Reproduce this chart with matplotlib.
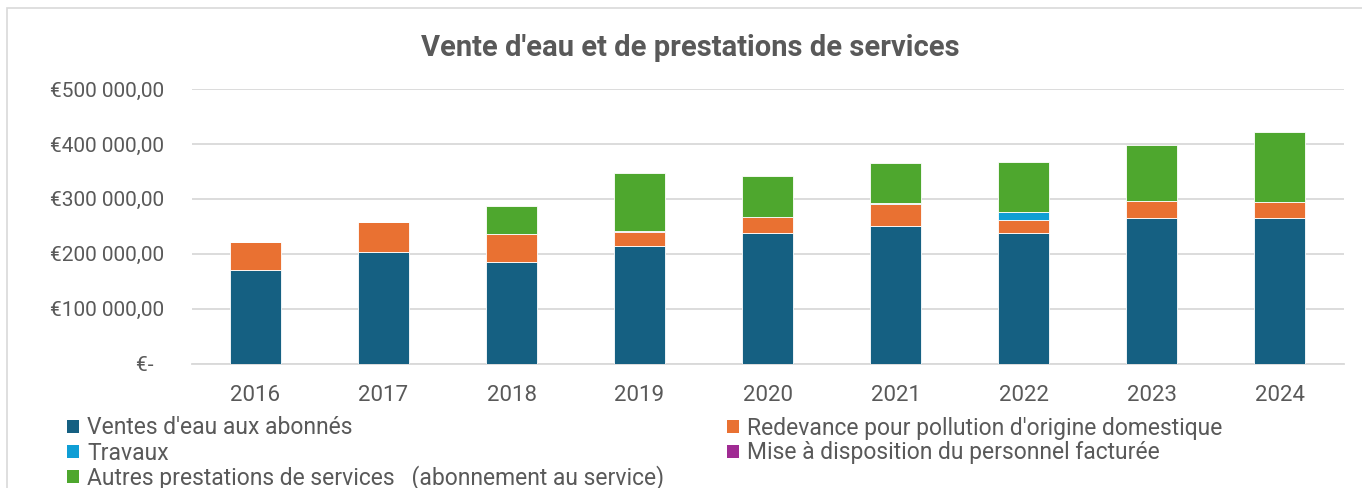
import matplotlib.pyplot as plt
from matplotlib.patches import Patch, Rectangle
from matplotlib.ticker import FuncFormatter
import numpy as np

years = ["2016", "2017", "2018", "2019", "2020", "2021", "2022", "2023", "2024"]
ventes = [171000, 204000, 185000, 214000, 237000, 251500, 237000, 266000, 266000]
redevance = [50000, 54000, 51000, 26500, 30000, 39000, 24500, 29500, 28000]
travaux = [0, 0, 0, 0, 0, 1500, 14500, 0, 0]
mise_dispo = [0, 0, 0, 1200, 0, 0, 0, 0, 0]
autres = [0, 0, 51500, 105400, 75200, 73300, 91100, 102700, 127900]

series = [
    ("Ventes d'eau aux abonnés", ventes, "#156082"),
    ("Redevance pour pollution d'origine domestique", redevance, "#E97132"),
    ("Travaux", travaux, "#0F9ED5"),
    ("Mise à disposition du personnel facturée", mise_dispo, "#A02B93"),
    ("Autres prestations de services   (abonnement au service)", autres, "#4EA72E"),
]

plt.rcParams['font.family'] = ['Roboto', 'DejaVu Sans']
txt = "#595959"
W, H = 1362, 488

fig = plt.figure(figsize=(13.62, 4.88), dpi=100)
ax = fig.add_axes([191.5 / W, 1 - 363.7 / H, 1152 / W, 274.7 / H])

x = np.arange(len(years))
bottom = np.zeros(len(years))
for name, vals, col in series:
    v = np.array(vals, dtype=float)
    ax.bar(x, v, 0.4, bottom=bottom, color=col, edgecolor="white", linewidth=0.6, label=name, zorder=3)
    bottom += v

ax.set_xlim(-0.5, len(years) - 0.5)
ax.set_ylim(0, 500000)
ax.set_yticks(np.arange(0, 500001, 100000))


def fmt(v, pos):
    if v == 0:
        return "€-  "
    s = f"{v:,.2f}".replace(",", " ").replace(".", ",")
    return "€" + s


ax.yaxis.set_major_formatter(FuncFormatter(fmt))
ax.set_xticks(x)
ax.set_xticklabels(years)
ax.grid(axis="y", color="#D9D9D9", linewidth=1.3, zorder=0)
for s in ["top", "right", "left"]:
    ax.spines[s].set_visible(False)
ax.spines["bottom"].set_color("#D9D9D9")
ax.spines["bottom"].set_linewidth(1.3)
ax.tick_params(axis="both", length=0, colors=txt)
ax.tick_params(axis="y", pad=20, labelsize=15)
ax.tick_params(axis="x", pad=15, labelsize=16)

fig.text(690 / W, 1 - 48 / H, "Vente d'eau et de prestations de services", ha="center", va="center",
         fontsize=21, fontweight="bold", color=txt)

# chart frame (open on the right and bottom, cropped)
fig.patches.append(Rectangle((7 / W, -0.1), 1.1, 1.1 - 8 / H, transform=fig.transFigure,
                             fill=False, edgecolor="#D9D9D9", linewidth=1.2))

# legend entries, one per slot (two columns)
slots = [(67, 428), (727, 428), (67, 453), (727, 453), (67, 478)]
for (name, _, col), (lx, ly) in zip(series, slots):
    fig.legend([Patch(facecolor=col, edgecolor="none")], [name], loc="center left",
               bbox_to_anchor=(lx / W, 1 - ly / H), frameon=False, fontsize=16.5,
               handlelength=0.52, handleheight=0.52, handletextpad=0.35,
               labelcolor=txt, borderaxespad=0, borderpad=0)

fig.savefig("out.png", dpi=100)
